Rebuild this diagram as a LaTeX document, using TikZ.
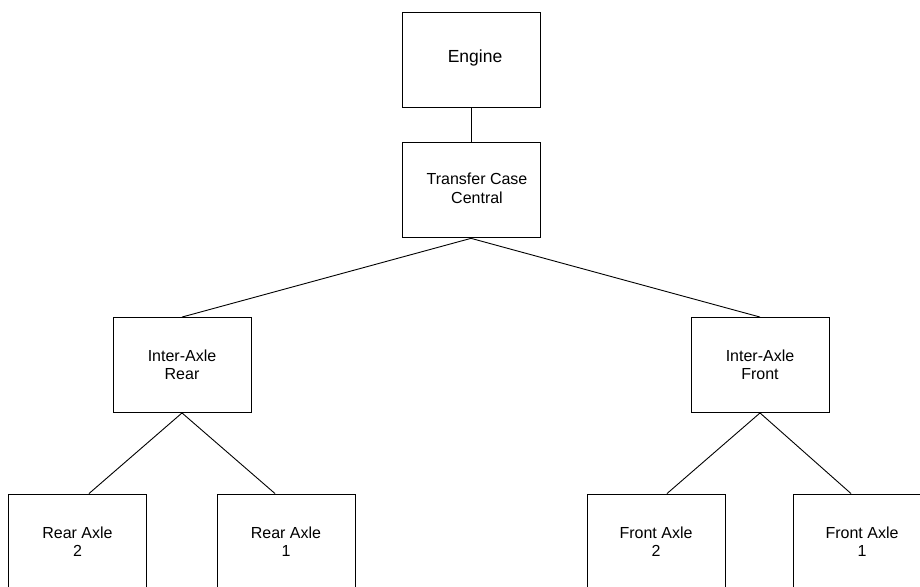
\documentclass[tikz,border=0pt]{standalone}
\usepackage{fontspec}
\setmainfont{Liberation Sans}
\usetikzlibrary{positioning,calc}
\tikzset{
    % Unit box style
    unitbox/.style={
        rectangle, draw=black, line width=0.9pt, fill=white,
        minimum width=138pt, minimum height=95pt,
        align=center, inner sep=0pt,
        font=\fontsize{16}{18.4}\selectfont
    },
    % Shaft line style
    shaft/.style={
        draw=black, line width=0.9pt
    }
}
\begin{document}
\begin{tikzpicture}[x=1pt,y=-1pt]

\useasboundingbox (0,0) rectangle (920,586);

\node[unitbox, font=\fontsize{17.5}{20}\selectfont] (engine) at (471,59.5)
    {\hspace*{8pt}\raisebox{7pt}{Engine}};
\node[unitbox, below=35pt of engine] (transfer)
    {\hspace*{12pt}\begin{tabular}{@{}c@{}}Transfer Case\\Central\end{tabular}};
\node[unitbox] (iarear) at (182,365) {Inter-Axle\\Rear};
\node[unitbox] (iafront) at (760,365) {Inter-Axle\\Front};
\node[unitbox] (rearaxletwo) at (77.5,541.5) {Rear Axle\\2};
\node[unitbox] (rearaxleone) at (286,541.5) {Rear Axle\\1};
\node[unitbox] (frontaxletwo) at (656,541.5) {Front Axle\\2};
\node[unitbox] (frontaxleone) at (862,541.5) {Front Axle\\1};

% Drive lines
\draw[shaft] (engine.south) -- (transfer.north);
\draw[shaft] (transfer.south) -- (iarear.north);
\draw[shaft] (transfer.south) -- (iafront.north);
\draw[shaft] (iarear.south) -- ([xshift=11.5pt]rearaxletwo.north);
\draw[shaft] (iarear.south) -- ([xshift=-11pt]rearaxleone.north);
\draw[shaft] (iafront.south) -- ([xshift=11pt]frontaxletwo.north);
\draw[shaft] (iafront.south) -- ([xshift=-11pt]frontaxleone.north);

\end{tikzpicture}
\end{document}
